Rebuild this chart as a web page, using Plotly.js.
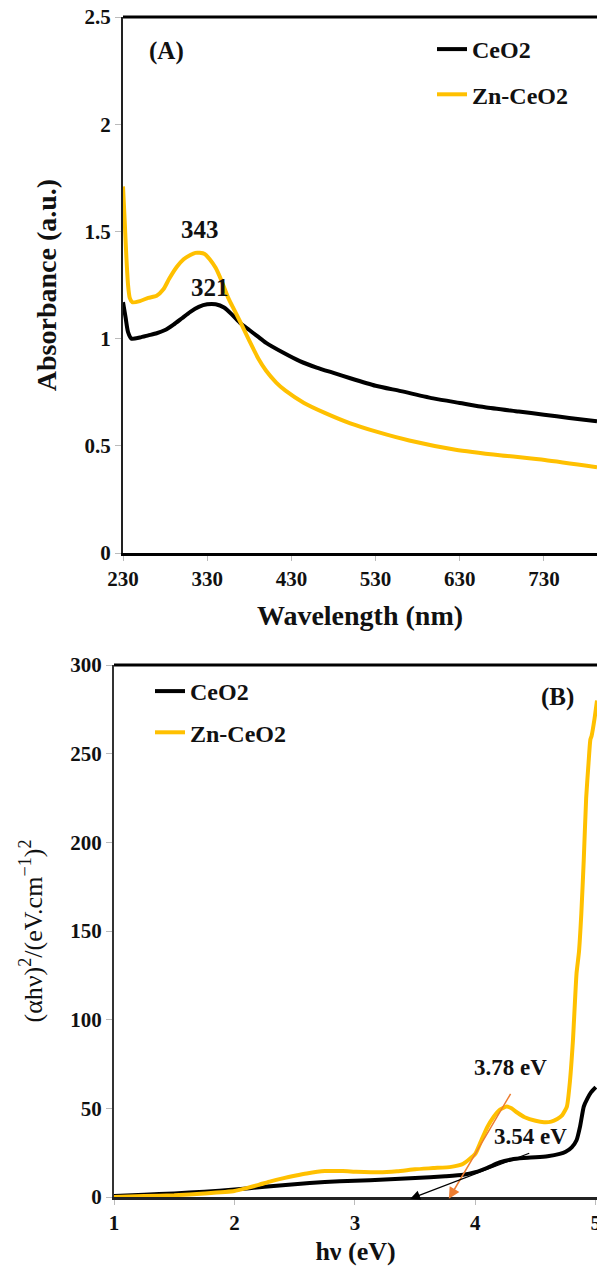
<!DOCTYPE html>
<html>
<head>
<meta charset="utf-8">
<script src="https://cdn.plot.ly/plotly-3.0.1.min.js"></script>
<style>
html,body{margin:0;padding:0;background:#fff;}
#chart{width:597px;height:1271px;}
</style>
</head>
<body>
<div id="chart"></div>
<script>
// ---------- Panel (A): UV-Vis absorbance ----------
const seriesNames = ["CeO2", "Zn-CeO2"];

const wlCeO2 = [230,233,236,240,250,260,270,280,290,300,310,320,330,340,350,360,370,380,390,400,420,440,460,480,500,530,560,600,630,660,700,730,760,793];
const absCeO2 = [1.17,1.10,1.03,1.00,1.005,1.015,1.025,1.04,1.065,1.095,1.125,1.148,1.16,1.16,1.145,1.11,1.07,1.04,1.01,0.98,0.935,0.895,0.865,0.84,0.815,0.78,0.755,0.72,0.70,0.68,0.66,0.645,0.63,0.615];

const wlZn = [230,232,234,236,238,241,250,260,270,278,285,294,302,310,316,321,327,333,340,347,355,362,369,380,391,400,412,423,445,469,500,532,570,625,680,731,793];
const absZn = [1.71,1.55,1.38,1.25,1.19,1.17,1.175,1.19,1.20,1.23,1.28,1.335,1.37,1.39,1.40,1.40,1.395,1.37,1.33,1.27,1.19,1.135,1.08,0.99,0.905,0.85,0.795,0.757,0.70,0.655,0.605,0.565,0.525,0.482,0.455,0.434,0.40];

const wlTicks = [230,330,430,530,630,730];
const peakLabels = ["343","321"];

// ---------- Panel (B): Tauc plot ----------
const evCeO2 = [1.0,1.25,1.5,1.75,2.0,2.25,2.5,2.75,3.0,3.25,3.5,3.75,3.9,4.0,4.1,4.2,4.3,4.4,4.5,4.6,4.7,4.75,4.8,4.84,4.87,4.9,4.93,4.96,5.0];
const taucCeO2 = [0.5,1.3,2,3,4.2,5.8,7.2,8.5,9.2,9.8,10.7,11.7,12.5,14,16.5,19.5,21.2,22,22.4,23,24.3,25.5,28,32,40,51,55.5,59,62];

const evZn = [1.0,1.25,1.5,1.75,2.0,2.1,2.2,2.3,2.4,2.5,2.6,2.75,2.9,3.0,3.2,3.35,3.5,3.65,3.8,3.9,4.0,4.05,4.1,4.15,4.2,4.26,4.3,4.35,4.41,4.5,4.57,4.63,4.68,4.72,4.76,4.785,4.81,4.84,4.86,4.88,4.9,4.92,4.94,4.955,4.965,4.99,5.01];
const taucZn = [0,0.5,1,2,3.4,5,6.8,8.8,10.5,12,13.3,14.6,14.6,14.3,13.9,14.5,15.6,16.3,17,18.8,24.4,32,39.5,45,49,51,50,47.5,45,43,42.2,42.5,44,46,51,65,88,126,138,160,190,225,245,258,260,270,280];

const gapLabels = ["3.78 eV","3.54 eV"];
const gapValues = [3.78, 3.46];

const black = "#000000";
const gold = "#FFC000";
const orange = "#ED7D31";
const txt = "#111111";
const serif = "Liberation Serif, Times New Roman, serif";

const traces = [
  {x: wlCeO2, y: absCeO2, name: seriesNames[0], type: "scatter", mode: "lines",
   line: {color: black, width: 4, shape: "spline", smoothing: 0.6},
   xaxis: "x", yaxis: "y", legend: "legend", legendgroup: "a1"},
  {x: wlZn, y: absZn, name: seriesNames[1], type: "scatter", mode: "lines",
   line: {color: gold, width: 4, shape: "spline", smoothing: 0.6},
   xaxis: "x", yaxis: "y", legend: "legend", legendgroup: "a2"},
  {x: evCeO2, y: taucCeO2, name: seriesNames[0], type: "scatter", mode: "lines",
   line: {color: black, width: 4, shape: "spline", smoothing: 0.5},
   xaxis: "x2", yaxis: "y2", legend: "legend2", legendgroup: "b1"},
  {x: evZn, y: taucZn, name: seriesNames[1], type: "scatter", mode: "lines",
   line: {color: gold, width: 4, shape: "spline", smoothing: 0.5},
   xaxis: "x2", yaxis: "y2", legend: "legend2", legendgroup: "b2"}
];

const tickFont = {family: serif, size: 21, color: txt, weight: "bold"};
const titleFontA = {family: serif, size: 28, color: txt, weight: "bold"};
const titleFontB = {family: serif, size: 26, color: txt, weight: "bold"};
const legFont = {family: serif, size: 24, color: txt, weight: "bold"};
const annFontA = {family: serif, size: 25, color: txt, weight: "bold"};
const annFontB = {family: serif, size: 23, color: txt, weight: "bold"};

const H = 1271, W = 597;

const layout = {
  width: W, height: H,
  margin: {l: 0, r: 0, t: 0, b: 0},
  paper_bgcolor: "#fff", plot_bgcolor: "#fff",
  showlegend: true,
  xaxis: {
    domain: [123/W, 1], anchor: "y", range: [230, 793],
    tickmode: "array", tickvals: wlTicks, ticktext: wlTicks.map(String),
    showline: true, linecolor: black, linewidth: 3,
    ticks: "outside", ticklen: 5, tickcolor: "#bbb", tickwidth: 1,
    tickfont: tickFont, showgrid: false, zeroline: false,
    title: {text: "Wavelength (nm)", font: titleFontA, standoff: 16}
  },
  yaxis: {
    domain: [1 - 553/H, 1 - 17/H], anchor: "x", range: [0, 2.5],
    dtick: 0.5, tick0: 0,
    showline: true, linecolor: "#222", linewidth: 2,
    ticks: "outside", ticklen: 6, tickcolor: "#bbb", tickwidth: 1,
    tickfont: tickFont, showgrid: false, zeroline: false,
    title: {text: "Absorbance (a.u.)", font: titleFontA, standoff: 20}
  },
  xaxis2: {
    domain: [114/W, 1], anchor: "y2", range: [1, 5.01],
    dtick: 1, tick0: 1, ticklabeloverflow: "allow",
    showline: true, linecolor: "#222", linewidth: 2.5,
    ticks: "outside", ticklen: 5, tickcolor: "#bbb", tickwidth: 1,
    tickfont: tickFont, showgrid: false, zeroline: false,
    title: {text: "hν (eV)", font: titleFontB, standoff: 8}
  },
  yaxis2: {
    domain: [1 - 1197/H, 1 - 665/H], anchor: "x2", range: [0, 300],
    dtick: 50, tick0: 0,
    showline: true, linecolor: "#333", linewidth: 2,
    ticks: "outside", ticklen: 6, tickcolor: "#bbb", tickwidth: 1,
    tickfont: tickFont, showgrid: false, zeroline: false,
    title: {text: "(αhν)<sup>2</sup>/(eV.cm<sup>−1</sup>)<sup>2</sup>", font: Object.assign({}, titleFontB, {weight: "normal"}), standoff: 20}
  },
  legend: {
    x: 432/W, y: 1 - 27/H, xanchor: "left", yanchor: "top",
    font: legFont, bgcolor: "rgba(255,255,255,0)", borderwidth: 0,
    tracegroupgap: 11, traceorder: "grouped"
  },
  legend2: {
    x: 150/W, y: 1 - 669/H, xanchor: "left", yanchor: "top",
    font: legFont, bgcolor: "rgba(255,255,255,0)", borderwidth: 0,
    tracegroupgap: 7, traceorder: "grouped"
  },
  shapes: [
    {type: "line", xref: "x domain", yref: "y domain", x0: 0, x1: 1, y0: 1, y1: 1,
     line: {color: black, width: 3}},
    {type: "line", xref: "x2 domain", yref: "y2 domain", x0: 0, x1: 1, y0: 1, y1: 1,
     line: {color: black, width: 3}}
  ],
  annotations: [
    {xref: "x", yref: "y", x: 282, y: 2.34, text: "(A)", showarrow: false, font: annFontA},
    {xref: "x", yref: "y", x: 321, y: 1.51, text: peakLabels[0], showarrow: false, font: annFontA},
    {xref: "x", yref: "y", x: 333, y: 1.24, text: peakLabels[1], showarrow: false, font: annFontA},
    {xref: "x2", yref: "y2", x: 4.68, y: 282, text: "(B)", showarrow: false, font: annFontA},
    {xref: "x2", yref: "y2", x: 4.29, y: 73, text: gapLabels[0], showarrow: false, font: annFontB},
    {xref: "x2", yref: "y2", x: 4.46, y: 34, text: gapLabels[1], showarrow: false, font: annFontB},
    {xref: "x2", yref: "y2", axref: "x2", ayref: "y2",
     x: gapValues[0], y: -1, ax: 4.30, ay: 59, text: "", showarrow: true,
     arrowcolor: orange, arrowwidth: 1.5, arrowhead: 2, arrowsize: 1.5, standoff: 0, startstandoff: 0},
    {xref: "x2", yref: "y2", axref: "x2", ayref: "y2",
     x: gapValues[1], y: -1, ax: 4.46, ay: 25, text: "", showarrow: true,
     arrowcolor: black, arrowwidth: 1.3, arrowhead: 2, arrowsize: 1.5, standoff: 0, startstandoff: 0}
  ]
};

Plotly.newPlot("chart", traces, layout, {staticPlot: true, displayModeBar: false});
</script>
</body>
</html>
